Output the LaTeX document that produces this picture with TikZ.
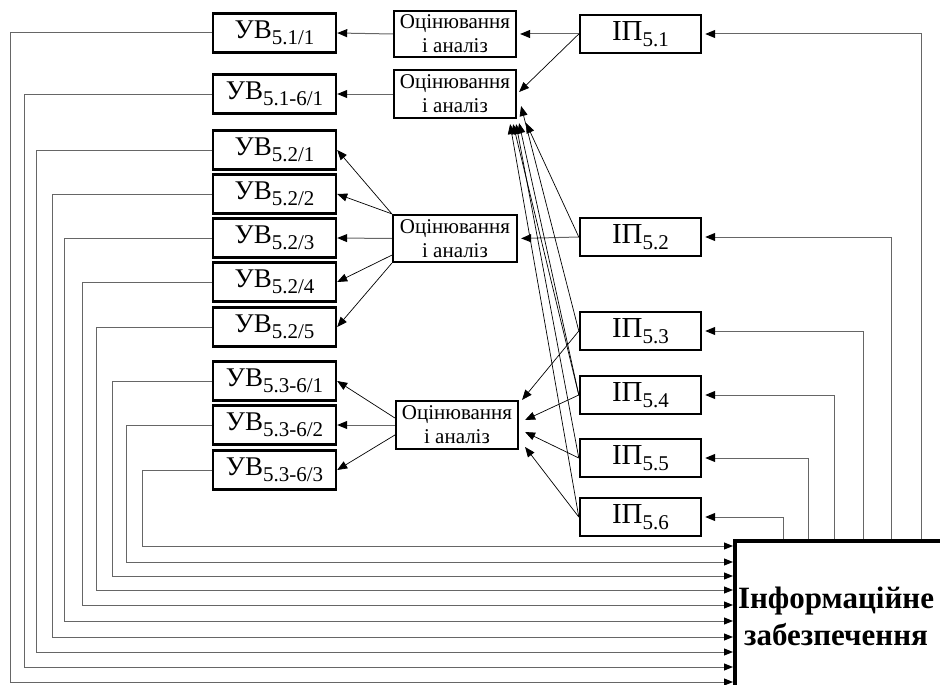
\documentclass[tikz,border=0pt]{standalone}
\usepackage{fontspec}
\setmainfont{Liberation Serif}
\usetikzlibrary{arrows.meta}
\newcommand{\subidx}[1]{\raisebox{-6.5pt}{\fontsize{21}{22}\selectfont #1}}

\begin{document}
\begin{tikzpicture}[x=1pt,y=-1pt,
	uvbox/.style={draw,line width=2.4pt,minimum width=123pt,minimum height=39pt,inner sep=0pt,font=\fontsize{27}{28}\selectfont},
	ipbox/.style={uvbox,minimum width=121pt,minimum height=38pt,font=\fontsize{29}{30}\selectfont},
	evalbox/.style={draw,line width=2.2pt,minimum width=122pt,minimum height=47pt,inner sep=0pt,align=center,font=\fontsize{21}{24}\selectfont},
	bigbox/.style={draw,line width=4pt,anchor=north west,minimum width=260pt,minimum height=200pt},
	arr/.style={-{Triangle[length=10pt,width=8pt]},line width=0.7pt},
	conn/.style={-{Triangle[length=10pt,width=8pt,color=black]},draw=black!60,line width=1pt},
	back/.style={-{Triangle[length=9pt,width=7pt,color=black]},draw=black!60,line width=1pt}]
	\useasboundingbox (0,0) rectangle (940,685);

	\node[uvbox] (uv1) at (274.5,33) {УВ\subidx{5.1/1}};
	\node[uvbox] (uv2) at (274.5,94) {УВ\subidx{5.1-6/1}};
	\node[uvbox] (uv3) at (274.5,150) {УВ\subidx{5.2/1}};
	\node[uvbox] (uv4) at (274.5,194) {УВ\subidx{5.2/2}};
	\node[uvbox] (uv5) at (274.5,238) {УВ\subidx{5.2/3}};
	\node[uvbox] (uv6) at (274.5,282) {УВ\subidx{5.2/4}};
	\node[uvbox] (uv7) at (274.5,327) {УВ\subidx{5.2/5}};
	\node[uvbox] (uv8) at (274.5,381) {УВ\subidx{5.3-6/1}};
	\node[uvbox] (uv9) at (274.5,425) {УВ\subidx{5.3-6/2}};
	\node[uvbox] (uv10) at (274.5,470) {УВ\subidx{5.3-6/3}};

	\node[evalbox,minimum height=46pt] (ev1) at (455,34) {Оцінювання\\і аналіз};
	\node[evalbox,minimum height=48pt] (ev2) at (455,94) {Оцінювання\\і аналіз};
	\node[evalbox,minimum width=124pt] (ev3) at (455,238.5) {Оцінювання\\і аналіз};
	\node[evalbox,minimum height=48pt] (ev4) at (457,425) {Оцінювання\\і аналіз};

	\node[ipbox] (ip1) at (640.5,34) {ІП\subidx{5.1}};
	\node[ipbox] (ip2) at (640.5,237) {ІП\subidx{5.2}};
	\node[ipbox] (ip3) at (640.5,331) {ІП\subidx{5.3}};
	\node[ipbox] (ip4) at (640.5,395) {ІП\subidx{5.4}};
	\node[ipbox] (ip5) at (640.5,458) {ІП\subidx{5.5}};
	\node[ipbox] (ip6) at (640.5,517) {ІП\subidx{5.6}};

	\node[bigbox] (info) at (733,539) {};
	\node[font=\fontsize{31}{37}\selectfont\bfseries,align=center] (infotxt) at (836,616) {Інформаційне\\забезпечення};

	\draw[conn] (ev1.west) -- (uv1.east);
	\draw[conn] (ev2.west) -- (uv2.east);
	\draw[arr] (ev3.north west) -- (uv3.east);
	\draw[arr] (ev3.north west) -- (uv4.east);
	\draw[conn] (ev3.west) -- (uv5.east);
	\draw[arr] ([yshift=8pt]ev3.south west) -- (uv6.east);
	\draw[arr] (ev3.south west) -- (uv7.east);
	\draw[arr] ([yshift=7pt]ev4.west) -- (uv8.east);
	\draw[conn] (ev4.west) -- (uv9.east);
	\draw[arr] ([yshift=-10pt]ev4.west) -- (uv10.east);

	\draw[conn,shorten >=3pt] (ip1.west) -- (ev1.east);
	\draw[arr] (ip1.west) -- ([xshift=2pt,yshift=2pt]ev2.east);
	\draw[conn,shorten >=3pt] (ip2.west) -- (ev3.east);
	\draw[arr] (ip2.west) -- ([xshift=9pt,yshift=-4pt]ev2.south east);
	\draw[arr] (ip3.west) -- ([xshift=4pt,yshift=-12pt]ev2.east);
	\draw[arr] (ip4.west) -- ([xshift=2pt,yshift=-4pt]ev2.south east);
	\draw[arr] (ip4.west) -- ([xshift=-4pt,yshift=-5pt]ev2.south east);
	\draw[arr] (ip5.west) -- ([xshift=-1pt,yshift=-5pt]ev2.south east);
	\draw[arr] (ip6.west) -- ([xshift=-7pt,yshift=-5pt]ev2.south east);
	\draw[arr] (ip3.west) -- ([xshift=3pt]ev4.north east);
	\draw[arr] (ip4.west) -- ([xshift=6pt,yshift=5pt]ev4.east);
	\draw[arr] (ip5.west) -- ([xshift=6pt,yshift=-7pt]ev4.east);
	\draw[arr] (ip6.west) -- ([xshift=6pt,yshift=-22pt]ev4.east);

	\draw[back] (uv1.west) -| (10,682) -- (info.west |- 0,682);
	\draw[back] (uv2.west) -| (24,667) -- (info.west |- 0,667);
	\draw[back] (uv3.west) -| (36,652) -- (info.west |- 0,652);
	\draw[back] (uv4.west) -| (52,637) -- (info.west |- 0,637);
	\draw[back] (uv5.west) -| (64,621) -- (info.west |- 0,621);
	\draw[back] (uv6.west) -| (82,605) -- (info.west |- 0,605);
	\draw[back] (uv7.west) -| (96,590) -- (info.west |- 0,590);
	\draw[back] (uv8.west) -| (112,576) -- (info.west |- 0,576);
	\draw[back] (uv9.west) -| (126,562) -- (info.west |- 0,562);
	\draw[back] (uv10.west) -| (142,546) -- (info.west |- 0,546);

	\draw[conn,shorten >=3pt] (info.north -| 921,0) |- (ip1.east);
	\draw[conn,shorten >=3pt] (info.north -| 891,0) |- (ip2.east);
	\draw[conn,shorten >=3pt] (info.north -| 863,0) |- (ip3.east);
	\draw[conn,shorten >=3pt] (info.north -| 834,0) |- (ip4.east);
	\draw[conn,shorten >=3pt] (info.north -| 808,0) |- (ip5.east);
	\draw[conn,shorten >=3pt] (info.north -| 783,0) |- (ip6.east);
\end{tikzpicture}
\end{document}
